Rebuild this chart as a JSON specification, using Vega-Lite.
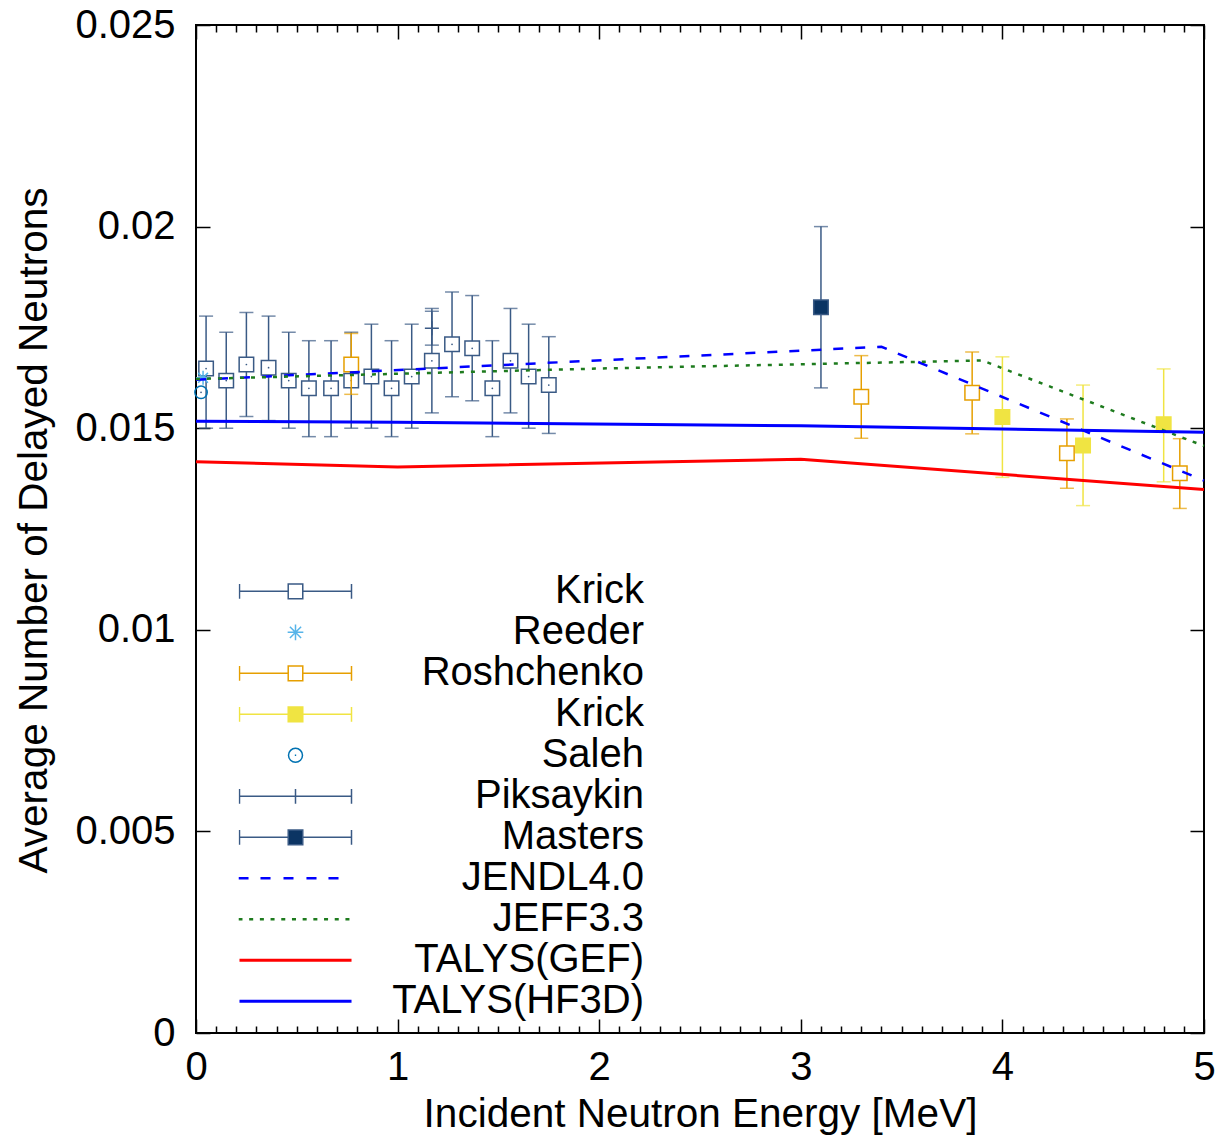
{
  "$schema": "https://vega.github.io/schema/vega-lite/v6.json",
  "width": 1008,
  "height": 1008,
  "autosize": "none",
  "padding": {"left": 196, "top": 25, "right": 18, "bottom": 103},
  "background": "white",
  "config": {
    "view": {"stroke": "black", "strokeWidth": 2},
    "font": "Liberation Sans",
    "legend": {
      "orient": "none", "legendX": 42.5, "legendY": 546, "title": null, "direction": "vertical",
      "symbolSize": 12544, "clipHeight": 40.7, "rowPadding": 0, "padding": 0,
      "labelFont": "Liberation Sans", "labelFontSize": 40, "labelColor": "black",
      "labelAlign": "right", "labelBaseline": "middle", "labelOffset": 291.5, "labelLimit": 600,
      "symbolOpacity": 1, "symbolStrokeWidth": 1.5
    }
  },
  "data": {"values": [
    {"series":"Krick","x":0.05,"y":0.01648,"lo":0.0150,"hi":0.01778},
    {"series":"Krick","x":0.15,"y":0.01618,"lo":0.0150,"hi":0.01738},
    {"series":"Krick","x":0.25,"y":0.01658,"lo":0.01529,"hi":0.01787},
    {"series":"Krick","x":0.36,"y":0.0165,"lo":0.01519,"hi":0.01778},
    {"series":"Krick","x":0.46,"y":0.01618,"lo":0.0150,"hi":0.01738},
    {"series":"Krick","x":0.56,"y":0.01599,"lo":0.01479,"hi":0.01717},
    {"series":"Krick","x":0.67,"y":0.01599,"lo":0.01479,"hi":0.01717},
    {"series":"Krick","x":0.77,"y":0.01618,"lo":0.0150,"hi":0.01738},
    {"series":"Krick","x":0.87,"y":0.01628,"lo":0.0150,"hi":0.01758},
    {"series":"Krick","x":0.97,"y":0.01599,"lo":0.01479,"hi":0.01717},
    {"series":"Krick","x":1.07,"y":0.01628,"lo":0.0150,"hi":0.01758},
    {"series":"Krick","x":1.17,"y":0.01667,"lo":0.01538,"hi":0.01797},
    {"series":"Krick","x":1.27,"y":0.01708,"lo":0.01578,"hi":0.01838},
    {"series":"Krick","x":1.37,"y":0.01698,"lo":0.01568,"hi":0.01829},
    {"series":"Krick","x":1.47,"y":0.01599,"lo":0.01479,"hi":0.01717},
    {"series":"Krick","x":1.56,"y":0.01667,"lo":0.01538,"hi":0.01797},
    {"series":"Krick","x":1.65,"y":0.01628,"lo":0.0150,"hi":0.01758},
    {"series":"Krick","x":1.75,"y":0.01607,"lo":0.01487,"hi":0.01727},
    {"series":"Reeder","x":0.035,"y":0.01625},
    {"series":"Roshchenko","x":0.77,"y":0.01658,"lo":0.01584,"hi":0.01735},
    {"series":"Roshchenko","x":3.30,"y":0.01578,"lo":0.01475,"hi":0.0168},
    {"series":"Roshchenko","x":3.85,"y":0.01588,"lo":0.01486,"hi":0.01689},
    {"series":"Roshchenko","x":4.32,"y":0.01438,"lo":0.01351,"hi":0.01523},
    {"series":"Roshchenko","x":4.88,"y":0.01388,"lo":0.01301,"hi":0.01474},
    {"series":"Krick (2)","x":4.0,"y":0.01528,"lo":0.01378,"hi":0.01677},
    {"series":"Krick (2)","x":4.40,"y":0.01457,"lo":0.01308,"hi":0.01607},
    {"series":"Krick (2)","x":4.80,"y":0.0151,"lo":0.01367,"hi":0.01647},
    {"series":"Saleh","x":0.025,"y":0.01589},
    {"series":"Piksaykin","x":1.17,"y":0.01748,"lo":0.01706,"hi":0.0179},
    {"series":"Masters","x":3.10,"y":0.018,"lo":0.016,"hi":0.020},
    {"series":"JENDL4.0","x":0,"y":0.0162},
    {"series":"JENDL4.0","x":3.4,"y":0.01702},
    {"series":"JENDL4.0","x":5,"y":0.0137},
    {"series":"JEFF3.3","x":0,"y":0.01622},
    {"series":"JEFF3.3","x":2,"y":0.01648},
    {"series":"JEFF3.3","x":3.9,"y":0.01668},
    {"series":"JEFF3.3","x":5,"y":0.01456},
    {"series":"TALYS(GEF)","x":0,"y":0.01417},
    {"series":"TALYS(GEF)","x":1,"y":0.01404},
    {"series":"TALYS(GEF)","x":3,"y":0.01423},
    {"series":"TALYS(GEF)","x":5,"y":0.01348},
    {"series":"TALYS(HF3D)","x":0,"y":0.01517},
    {"series":"TALYS(HF3D)","x":1,"y":0.01515},
    {"series":"TALYS(HF3D)","x":3,"y":0.01506},
    {"series":"TALYS(HF3D)","x":5,"y":0.0149}
  ]},
  "resolve": {"axis": {"x": "independent", "y": "independent"}},
  "layer": [
    {
      "transform": [{"filter": "datum.series == 'none'"}],
      "mark": {"type": "point", "filled": false},
      "encoding": {
        "x": {"field": "x", "type": "quantitative", "scale": {"domain": [0, 5], "nice": false, "zero": false}, "axis": null},
        "y": {"field": "y", "type": "quantitative", "scale": {"domain": [0, 0.025], "nice": false, "zero": false}, "axis": null},
        "color": {
          "field": "series", "type": "nominal",
          "scale": {
            "domain": ["Krick","Reeder","Roshchenko","Krick (2)","Saleh","Piksaykin","Masters","JENDL4.0","JEFF3.3","TALYS(GEF)","TALYS(HF3D)"],
            "range": ["#3a5a85","#56B4E9","#E69F00","#F0E442","#0072B2","#3a5a85","#3a5a85","#0000ff","#1e7b1e","#ff0000","#0000ff"]
          },
          "legend": {"labelExpr": "replace(datum.label, ' (2)', '')"}
        },
        "fill": {
          "field": "series", "type": "nominal",
          "scale": {
            "domain": ["Krick","Reeder","Roshchenko","Krick (2)","Saleh","Piksaykin","Masters","JENDL4.0","JEFF3.3","TALYS(GEF)","TALYS(HF3D)"],
            "range": ["white","transparent","white","#F0E442","transparent","transparent","#0b3463","#0000ff","#1e7b1e","#ff0000","#0000ff"]
          },
          "legend": {"labelExpr": "replace(datum.label, ' (2)', '')"}
        },
        "shape": {
          "field": "series", "type": "nominal",
          "scale": {
            "domain": ["Krick","Reeder","Roshchenko","Krick (2)","Saleh","Piksaykin","Masters","JENDL4.0","JEFF3.3","TALYS(GEF)","TALYS(HF3D)"],
            "range": [
              "M-1,0H-0.13M0.13,0H1M-1,-0.13V0.13M1,-0.13V0.13M-0.13,-0.13H0.13V0.13H-0.13Z",
              "M0,-0.14V0.14M-0.14,0H0.14M-0.1,-0.1L0.1,0.1M-0.1,0.1L0.1,-0.1",
              "M-1,0H-0.13M0.13,0H1M-1,-0.13V0.13M1,-0.13V0.13M-0.13,-0.13H0.13V0.13H-0.13Z",
              "M-1,0H-0.13M0.13,0H1M-1,-0.13V0.13M1,-0.13V0.13M-0.13,-0.13H0.13V0.13H-0.13Z",
              "M0.125,0A0.125,0.125,0,1,1,-0.125,0A0.125,0.125,0,1,1,0.125,0ZM-0.012,0H0.012",
              "M-1,0H1M-1,-0.13V0.13M1,-0.13V0.13M0,-0.13V0.13",
              "M-1,0H-0.13M0.13,0H1M-1,-0.13V0.13M1,-0.13V0.13M-0.13,-0.13H0.13V0.13H-0.13Z",
              "M-1.005,-0.009H-0.852V0.009H-1.005ZM-0.612,-0.009H-0.459V0.009H-0.612ZM-0.201,-0.009H-0.049V0.009H-0.201ZM0.209,-0.009H0.362V0.009H0.209ZM0.602,-0.009H0.755V0.009H0.602Z",
              "M-1.005,-0.009H-0.96V0.009H-1.005ZM-0.814,-0.009H-0.769V0.009H-0.814ZM-0.623,-0.009H-0.578V0.009H-0.623ZM-0.432,-0.009H-0.387V0.009H-0.432ZM-0.241,-0.009H-0.196V0.009H-0.241ZM-0.05,-0.009H-0.005V0.009H-0.05ZM0.141,-0.009H0.186V0.009H0.141ZM0.332,-0.009H0.377V0.009H0.332ZM0.523,-0.009H0.568V0.009H0.523ZM0.714,-0.009H0.759V0.009H0.714ZM0.905,-0.009H0.95V0.009H0.905Z",
              "M-0.987,-0.0134H0.987V0.0134H-0.987Z",
              "M-0.987,-0.0134H0.987V0.0134H-0.987Z"
            ]
          },
          "legend": {"labelExpr": "replace(datum.label, ' (2)', '')"}
        }
      }
    },
    {
      "transform": [{"filter": "datum.series == 'Krick'"}],
      "mark": {"type": "errorbar", "color": "#3a5a85", "thickness": 1.5, "ticks": {"size": 14, "thickness": 1.5}},
      "encoding": {
        "x": {"field": "x", "type": "quantitative", "axis": null},
        "y": {"field": "lo", "type": "quantitative", "axis": null},
        "y2": {"field": "hi"}
      }
    },
    {
      "transform": [{"filter": "datum.series == 'Krick'"}],
      "mark": {"type": "point", "shape": "square", "size": 210, "filled": true, "fill": "white", "stroke": "#3a5a85", "strokeWidth": 1.5, "opacity": 1},
      "encoding": {
        "x": {"field": "x", "type": "quantitative", "axis": null},
        "y": {"field": "y", "type": "quantitative", "axis": null}
      }
    },
    {
      "transform": [{"filter": "datum.series == 'Krick' || datum.series == 'Roshchenko' || datum.series == 'Saleh'"}],
      "mark": {"type": "point", "shape": "circle", "size": 3, "filled": true, "color": "#3a5a85", "opacity": 1},
      "encoding": {
        "x": {"field": "x", "type": "quantitative", "axis": null},
        "y": {"field": "y", "type": "quantitative", "axis": null}
      }
    },
    {
      "transform": [{"filter": "datum.series == 'Reeder'"}],
      "mark": {"type": "point", "shape": "M0,-1V1M-1,0H1M-0.7,-0.7L0.7,0.7M-0.7,0.7L0.7,-0.7", "size": 196, "filled": false, "stroke": "#56B4E9", "strokeWidth": 1.5, "opacity": 1},
      "encoding": {
        "x": {"field": "x", "type": "quantitative", "axis": null},
        "y": {"field": "y", "type": "quantitative", "axis": null}
      }
    },
    {
      "transform": [{"filter": "datum.series == 'Roshchenko'"}],
      "mark": {"type": "errorbar", "color": "#E69F00", "thickness": 1.5, "ticks": {"size": 14, "thickness": 1.5}},
      "encoding": {
        "x": {"field": "x", "type": "quantitative", "axis": null},
        "y": {"field": "lo", "type": "quantitative", "axis": null},
        "y2": {"field": "hi"}
      }
    },
    {
      "transform": [{"filter": "datum.series == 'Roshchenko'"}],
      "mark": {"type": "point", "shape": "square", "size": 210, "filled": true, "fill": "white", "stroke": "#E69F00", "strokeWidth": 1.5, "opacity": 1},
      "encoding": {
        "x": {"field": "x", "type": "quantitative", "axis": null},
        "y": {"field": "y", "type": "quantitative", "axis": null}
      }
    },
    {
      "transform": [{"filter": "datum.series == 'Krick (2)'"}],
      "mark": {"type": "errorbar", "color": "#F0E442", "thickness": 1.5, "ticks": {"size": 14, "thickness": 1.5}},
      "encoding": {
        "x": {"field": "x", "type": "quantitative", "axis": null},
        "y": {"field": "lo", "type": "quantitative", "axis": null},
        "y2": {"field": "hi"}
      }
    },
    {
      "transform": [{"filter": "datum.series == 'Krick (2)'"}],
      "mark": {"type": "point", "shape": "square", "size": 210, "filled": true, "fill": "#F0E442", "stroke": "#F0E442", "strokeWidth": 1.5, "opacity": 1},
      "encoding": {
        "x": {"field": "x", "type": "quantitative", "axis": null},
        "y": {"field": "y", "type": "quantitative", "axis": null}
      }
    },
    {
      "transform": [{"filter": "datum.series == 'Saleh'"}],
      "mark": {"type": "point", "shape": "circle", "size": 154, "filled": false, "stroke": "#0072B2", "strokeWidth": 1.5, "opacity": 1},
      "encoding": {
        "x": {"field": "x", "type": "quantitative", "axis": null},
        "y": {"field": "y", "type": "quantitative", "axis": null}
      }
    },
    {
      "transform": [{"filter": "datum.series == 'Piksaykin'"}],
      "mark": {"type": "errorbar", "color": "#3a5a85", "thickness": 1.5, "ticks": {"size": 14, "thickness": 1.5}},
      "encoding": {
        "x": {"field": "x", "type": "quantitative", "axis": null},
        "y": {"field": "lo", "type": "quantitative", "axis": null},
        "y2": {"field": "hi"}
      }
    },
    {
      "transform": [{"filter": "datum.series == 'Piksaykin'"}],
      "mark": {"type": "point", "shape": "M-1,0H1M0,-1V1", "size": 196, "filled": false, "stroke": "#3a5a85", "strokeWidth": 1.5, "opacity": 1},
      "encoding": {
        "x": {"field": "x", "type": "quantitative", "axis": null},
        "y": {"field": "y", "type": "quantitative", "axis": null}
      }
    },
    {
      "transform": [{"filter": "datum.series == 'Masters'"}],
      "mark": {"type": "errorbar", "color": "#3a5a85", "thickness": 1.5, "ticks": {"size": 14, "thickness": 1.5}},
      "encoding": {
        "x": {"field": "x", "type": "quantitative", "axis": null},
        "y": {"field": "lo", "type": "quantitative", "axis": null},
        "y2": {"field": "hi"}
      }
    },
    {
      "transform": [{"filter": "datum.series == 'Masters'"}],
      "mark": {"type": "point", "shape": "square", "size": 210, "filled": true, "fill": "#0b3463", "stroke": "#3a5a85", "strokeWidth": 1.5, "opacity": 1},
      "encoding": {
        "x": {"field": "x", "type": "quantitative", "axis": null},
        "y": {"field": "y", "type": "quantitative", "axis": null}
      }
    },
    {
      "transform": [{"filter": "datum.series == 'JENDL4.0'"}],
      "mark": {"type": "line", "color": "#0000ff", "strokeWidth": 2.5, "strokeDash": [10, 12]},
      "encoding": {
        "x": {"field": "x", "type": "quantitative", "axis": {"orient": "top", "values": [0.1,0.2,0.3,0.4,0.5,0.6,0.7,0.8,0.9,1.1,1.2,1.3,1.4,1.5,1.6,1.7,1.8,1.9,2.1,2.2,2.3,2.4,2.5,2.6,2.7,2.8,2.9,3.1,3.2,3.3,3.4,3.5,3.6,3.7,3.8,3.9,4.1,4.2,4.3,4.4,4.5,4.6,4.7,4.8,4.9], "tickSize": -7, "tickWidth": 1.5, "tickColor": "black", "labels": false, "domain": false, "grid": false, "title": null}},
        "y": {"field": "y", "type": "quantitative", "axis": null}
      }
    },
    {
      "transform": [{"filter": "datum.series == 'JEFF3.3'"}],
      "mark": {"type": "line", "color": "#1e7b1e", "strokeWidth": 2.5, "strokeDash": [4, 7]},
      "encoding": {
        "x": {"field": "x", "type": "quantitative", "axis": {"orient": "bottom", "values": [0.1,0.2,0.3,0.4,0.5,0.6,0.7,0.8,0.9,1.1,1.2,1.3,1.4,1.5,1.6,1.7,1.8,1.9,2.1,2.2,2.3,2.4,2.5,2.6,2.7,2.8,2.9,3.1,3.2,3.3,3.4,3.5,3.6,3.7,3.8,3.9,4.1,4.2,4.3,4.4,4.5,4.6,4.7,4.8,4.9], "tickSize": -7, "tickWidth": 1.5, "tickColor": "black", "labels": false, "domain": false, "grid": false, "title": null}},
        "y": {"field": "y", "type": "quantitative", "axis": null}
      }
    },
    {
      "transform": [{"filter": "datum.series == 'TALYS(GEF)'"}],
      "mark": {"type": "line", "color": "#ff0000", "strokeWidth": 3},
      "encoding": {
        "x": {"field": "x", "type": "quantitative", "axis": {"orient": "top", "values": [0,1,2,3,4,5], "tickSize": -14, "tickWidth": 1.5, "tickColor": "black", "labels": false, "domain": false, "grid": false, "title": null}},
        "y": {"field": "y", "type": "quantitative", "axis": {"orient": "right", "values": [0,0.005,0.01,0.015,0.02,0.025], "tickSize": -14, "tickWidth": 1.5, "tickColor": "black", "labels": false, "domain": false, "grid": false, "title": null}}
      }
    },
    {
      "transform": [{"filter": "datum.series == 'TALYS(HF3D)'"}],
      "mark": {"type": "line", "color": "#0000ff", "strokeWidth": 3},
      "encoding": {
        "x": {"field": "x", "type": "quantitative", "axis": {"orient": "bottom", "values": [0,1,2,3,4,5], "tickSize": -14, "tickWidth": 1.5, "tickColor": "black", "domain": false, "grid": false, "labelFont": "Liberation Sans", "labelFontSize": 40, "labelColor": "black", "labelBaseline": "alphabetic", "labelPadding": 60, "labelFlush": false, "labelOverlap": false, "title": "Incident Neutron Energy [MeV]", "titleFont": "Liberation Sans", "titleFontSize": 40.5, "titleFontWeight": "normal", "titleColor": "black", "titleBaseline": "alphabetic", "titleX": 504, "titleY": 93}},
        "y": {"field": "y", "type": "quantitative", "axis": {"orient": "left", "values": [0,0.005,0.01,0.015,0.02,0.025], "format": "~g", "tickSize": -14, "tickWidth": 1.5, "tickColor": "black", "domain": false, "grid": false, "labelFont": "Liberation Sans", "labelFontSize": 40, "labelColor": "black", "labelPadding": 35, "labelFlush": false, "labelOverlap": false, "title": "Average Number of Delayed Neutrons", "titleFont": "Liberation Sans", "titleFontSize": 40.5, "titleFontWeight": "normal", "titleColor": "black", "titleBaseline": "alphabetic", "titleAngle": -90, "titleAlign": "center", "titleX": -150, "titleY": 505}}
      }
    }
  ]
}
